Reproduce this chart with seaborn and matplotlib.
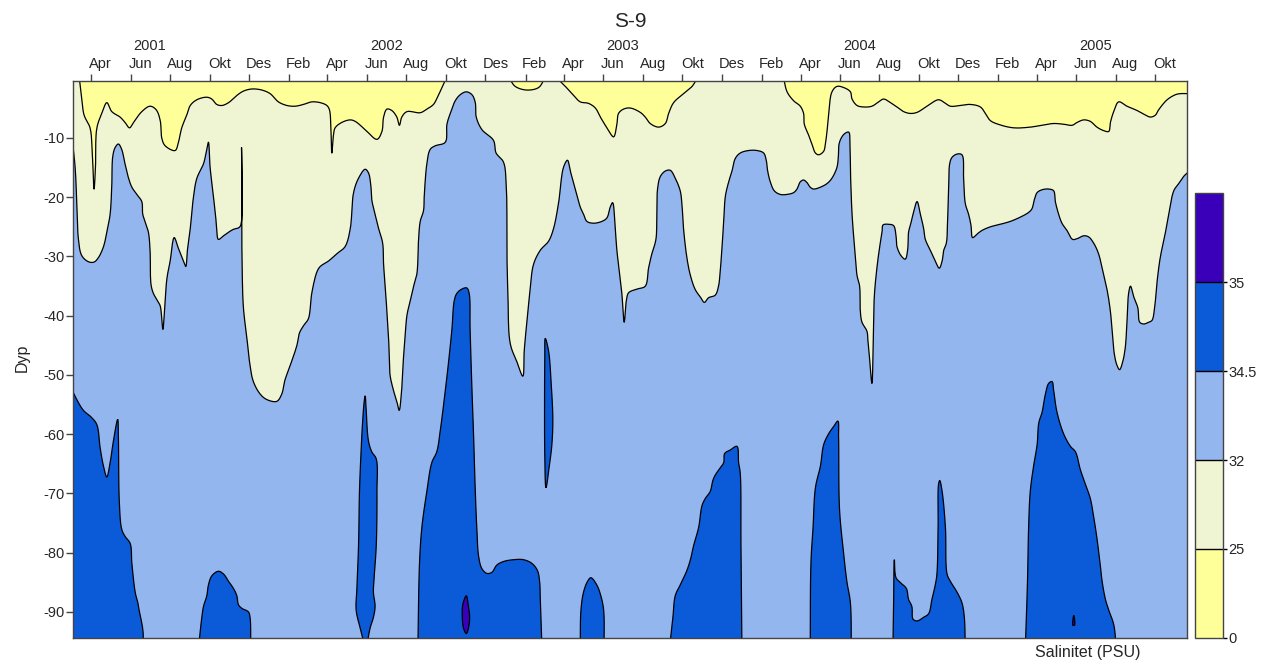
import datetime as dt
import numpy as np
import matplotlib
matplotlib.use("Agg")
import matplotlib as mpl
import matplotlib.pyplot as plt
from matplotlib.colors import ListedColormap, BoundaryNorm
import seaborn as sns

# ---------------- data (time in decimal years, depth in m) ----------------
# isohaline 25 PSU (lower edge of the fresh surface layer), one list per segment
ISO25_SEG1 = [(2001.197, 0), (2001.207, -3.44), (2001.217, -6.17), (2001.242, -8.30), (2001.251, -11.94),
              (2001.259, -18.63), (2001.265, -14.98), (2001.271, -8.30), (2001.292, -5.87), (2001.313, -4.05),
              (2001.334, -5.56), (2001.369, -6.48), (2001.390, -7.39), (2001.409, -8.30), (2001.426, -7.39),
              (2001.461, -5.56), (2001.496, -4.65), (2001.522, -5.26), (2001.539, -7.08), (2001.546, -10.12),
              (2001.560, -11.34), (2001.602, -12.13), (2001.616, -10.73), (2001.630, -8.30), (2001.651, -6.17),
              (2001.666, -4.53), (2001.694, -3.56), (2001.736, -3.13), (2001.757, -3.44), (2001.778, -4.35),
              (2001.800, -4.53), (2001.828, -4.05), (2001.863, -2.83), (2001.891, -2.10), (2001.927, -1.74),
              (2001.969, -1.92), (2002.004, -2.53), (2002.039, -3.92), (2002.075, -4.53), (2002.110, -4.65),
              (2002.145, -4.35), (2002.180, -3.92), (2002.216, -4.05), (2002.244, -4.53), (2002.255, -5.26),
              (2002.261, -8.30), (2002.265, -12.55), (2002.272, -9.51), (2002.279, -8.30), (2002.307, -7.39),
              (2002.343, -6.96), (2002.364, -7.21), (2002.406, -8.60), (2002.456, -10.24), (2002.477, -8.91),
              (2002.484, -6.48), (2002.498, -5.14), (2002.519, -5.38), (2002.540, -6.48), (2002.551, -7.87),
              (2002.561, -6.48), (2002.583, -5.56), (2002.639, -5.75), (2002.667, -5.14), (2002.695, -4.35),
              (2002.712, -3.13), (2002.731, -1.49), (2002.748, 0)]
ISO25_SEG2 = [(2003.017, 0), (2003.041, -1.31), (2003.090, -1.92), (2003.140, -1.49), (2003.165, 0)]
ISO25_SEG3 = [(2003.220, 0), (2003.253, -1.31), (2003.288, -2.83), (2003.316, -3.92), (2003.351, -4.17),
              (2003.380, -4.96), (2003.401, -6.48), (2003.429, -8.30), (2003.457, -9.82), (2003.471, -7.69),
              (2003.478, -5.87), (2003.499, -5.14), (2003.528, -4.96), (2003.570, -5.69), (2003.591, -6.48),
              (2003.612, -7.57), (2003.648, -8.18), (2003.676, -7.57), (2003.690, -5.87), (2003.711, -4.05),
              (2003.753, -2.53), (2003.789, -1.31), (2003.810, 0)]
ISO25_SEG4 = [(2004.177, 0), (2004.191, -2.22), (2004.219, -3.74), (2004.247, -4.65), (2004.261, -5.87),
              (2004.264, -7.69), (2004.282, -9.51), (2004.296, -11.03), (2004.311, -12.55), (2004.325, -12.85),
              (2004.346, -12.25), (2004.353, -11.03), (2004.360, -8.91), (2004.367, -5.87), (2004.381, -2.22),
              (2004.402, -1.31), (2004.430, -1.49), (2004.459, -2.22), (2004.466, -3.44), (2004.487, -4.53),
              (2004.515, -4.78), (2004.550, -4.65), (2004.578, -3.92), (2004.600, -3.44), (2004.628, -4.05),
              (2004.656, -4.78), (2004.684, -5.56), (2004.712, -5.87), (2004.741, -5.69), (2004.783, -4.65),
              (2004.832, -3.56), (2004.861, -4.17), (2004.882, -4.65), (2004.924, -4.53), (2004.966, -4.35),
              (2005.009, -4.78), (2005.030, -5.87), (2005.051, -7.08), (2005.093, -7.81), (2005.150, -8.30),
              (2005.220, -8.18), (2005.277, -7.81), (2005.319, -7.57), (2005.361, -7.69), (2005.397, -7.87),
              (2005.418, -7.39), (2005.446, -6.96), (2005.474, -7.21), (2005.502, -8.18), (2005.531, -8.78),
              (2005.552, -8.91), (2005.559, -7.39), (2005.573, -5.56), (2005.594, -3.92), (2005.629, -4.65),
              (2005.672, -5.38), (2005.700, -5.99), (2005.728, -6.48), (2005.749, -6.17), (2005.763, -5.26),
              (2005.799, -3.56), (2005.834, -2.71), (2005.855, -2.53), (2005.890, -2.53)]

# isohaline 32 PSU
ISO32 = [(2001.160, -8.00), (2001.179, -14.98), (2001.186, -21.06), (2001.193, -27.13), (2001.207, -29.87),
         (2001.235, -30.90), (2001.259, -30.96), (2001.278, -30.17), (2001.299, -28.35), (2001.313, -25.92),
         (2001.327, -22.88), (2001.334, -18.02), (2001.338, -13.16), (2001.348, -11.64), (2001.362, -11.03),
         (2001.376, -11.94), (2001.390, -14.37), (2001.405, -16.80), (2001.419, -18.32), (2001.440, -19.54),
         (2001.461, -20.75), (2001.465, -22.88), (2001.475, -24.09), (2001.489, -25.92), (2001.496, -28.96),
         (2001.500, -34.73), (2001.510, -36.24), (2001.527, -37.46), (2001.539, -38.37), (2001.550, -42.32),
         (2001.557, -39.28), (2001.567, -33.81), (2001.581, -30.78), (2001.598, -26.83), (2001.616, -28.65),
         (2001.637, -30.78), (2001.647, -31.70), (2001.654, -28.96), (2001.666, -25.31), (2001.680, -19.84),
         (2001.694, -16.80), (2001.722, -14.37), (2001.736, -11.94), (2001.743, -10.73), (2001.750, -14.98),
         (2001.764, -19.84), (2001.774, -23.49), (2001.778, -25.31), (2001.785, -27.13), (2001.807, -26.52),
         (2001.828, -25.92), (2001.849, -25.43), (2001.870, -25.19), (2001.880, -24.70), (2001.883, -11.64),
         (2001.885, -30.17), (2001.891, -38.67), (2001.905, -43.53), (2001.919, -48.40), (2001.933, -51.13),
         (2001.962, -53.25), (2001.990, -54.17), (2002.032, -54.47), (2002.053, -53.25), (2002.067, -50.83),
         (2002.089, -48.40), (2002.117, -45.05), (2002.128, -42.93), (2002.145, -41.71), (2002.166, -40.50),
         (2002.180, -36.24), (2002.202, -32.60), (2002.216, -31.70), (2002.251, -30.78), (2002.286, -29.56),
         (2002.321, -28.35), (2002.343, -25.31), (2002.357, -19.23), (2002.378, -16.80), (2002.406, -15.29),
         (2002.420, -15.89), (2002.430, -18.02), (2002.434, -20.45), (2002.448, -22.88), (2002.463, -25.31),
         (2002.480, -27.74), (2002.484, -31.39), (2002.491, -35.03), (2002.498, -39.28), (2002.505, -43.54),
         (2002.509, -48.40), (2002.512, -50.22), (2002.526, -52.65), (2002.540, -54.47), (2002.550, -55.99),
         (2002.559, -53.25), (2002.568, -47.18), (2002.575, -43.54), (2002.583, -39.89), (2002.597, -37.46),
         (2002.611, -35.03), (2002.625, -32.90), (2002.632, -27.13), (2002.639, -24.09), (2002.653, -22.27),
         (2002.656, -19.84), (2002.667, -14.37), (2002.681, -11.94), (2002.702, -11.34), (2002.745, -10.73),
         (2002.752, -7.69), (2002.766, -5.87), (2002.787, -3.74), (2002.808, -2.71), (2002.834, -2.22),
         (2002.858, -2.71), (2002.872, -4.05), (2002.876, -6.48), (2002.900, -8.60), (2002.949, -10.42),
         (2002.960, -12.55), (2002.991, -14.07), (2003.003, -18.02), (2003.006, -30.17), (2003.010, -36.24),
         (2003.020, -44.75), (2003.048, -47.79), (2003.073, -50.22), (2003.079, -45.96), (2003.090, -41.11),
         (2003.104, -35.64), (2003.118, -31.39), (2003.147, -28.96), (2003.182, -27.44), (2003.203, -25.31),
         (2003.224, -21.06), (2003.245, -14.98), (2003.262, -13.77), (2003.274, -15.59), (2003.295, -18.63),
         (2003.316, -21.66), (2003.330, -22.88), (2003.344, -24.09), (2003.372, -24.40), (2003.408, -24.09),
         (2003.429, -23.49), (2003.443, -21.66), (2003.453, -20.93), (2003.464, -25.31), (2003.471, -28.96),
         (2003.485, -33.81), (2003.492, -36.24), (2003.502, -41.11), (2003.511, -37.46), (2003.521, -36.12),
         (2003.556, -35.52), (2003.591, -35.03), (2003.605, -31.99), (2003.619, -29.56), (2003.633, -27.74),
         (2003.638, -26.52), (2003.640, -22.88), (2003.643, -18.63), (2003.655, -16.50), (2003.676, -15.59),
         (2003.697, -15.47), (2003.718, -16.80), (2003.739, -18.93), (2003.746, -21.06), (2003.753, -25.31),
         (2003.767, -30.17), (2003.782, -33.21), (2003.803, -35.64), (2003.824, -36.85), (2003.841, -37.76),
         (2003.859, -36.97), (2003.887, -36.55), (2003.901, -35.03), (2003.908, -32.60), (2003.916, -28.35),
         (2003.923, -24.09), (2003.930, -19.84), (2003.944, -17.41), (2003.958, -15.59), (2003.972, -13.46),
         (2003.993, -12.55), (2004.028, -12.13), (2004.064, -12.13), (2004.092, -12.55), (2004.103, -13.77),
         (2004.109, -15.59), (2004.120, -17.41), (2004.137, -18.93), (2004.162, -19.54), (2004.191, -19.54),
         (2004.219, -19.23), (2004.233, -18.63), (2004.247, -17.41), (2004.261, -17.11), (2004.275, -17.53),
         (2004.289, -18.32), (2004.303, -18.63), (2004.332, -18.32), (2004.360, -17.71), (2004.381, -16.80),
         (2004.402, -14.98), (2004.408, -13.16), (2004.411, -11.03), (2004.423, -9.82), (2004.437, -9.21),
         (2004.452, -9.03), (2004.457, -11.34), (2004.460, -16.80), (2004.466, -22.88), (2004.475, -27.74),
         (2004.487, -33.21), (2004.498, -35.03), (2004.501, -39.28), (2004.508, -41.11), (2004.529, -42.63),
         (2004.533, -44.14), (2004.540, -47.18), (2004.550, -51.43), (2004.556, -43.54), (2004.560, -36.85),
         (2004.571, -31.99), (2004.583, -28.35), (2004.593, -25.92), (2004.597, -24.70), (2004.621, -24.58),
         (2004.642, -24.82), (2004.652, -26.52), (2004.656, -28.35), (2004.673, -29.87), (2004.691, -30.47),
         (2004.701, -28.96), (2004.705, -25.92), (2004.713, -24.70), (2004.724, -22.88), (2004.741, -20.75),
         (2004.755, -22.88), (2004.769, -25.31), (2004.776, -27.13), (2004.797, -28.96), (2004.818, -30.78),
         (2004.835, -31.99), (2004.847, -30.78), (2004.854, -28.96), (2004.865, -27.74), (2004.870, -24.09),
         (2004.875, -18.02), (2004.879, -14.37), (2004.889, -13.28), (2004.910, -12.73), (2004.931, -12.85),
         (2004.938, -16.80), (2004.945, -21.06), (2004.959, -22.88), (2004.969, -24.70), (2004.976, -26.83),
         (2004.995, -26.22), (2005.016, -25.61), (2005.051, -25.01), (2005.093, -24.58), (2005.136, -24.09),
         (2005.178, -23.37), (2005.213, -22.58), (2005.227, -21.97), (2005.237, -20.45), (2005.249, -19.23),
         (2005.270, -18.75), (2005.298, -18.63), (2005.319, -18.93), (2005.326, -20.75), (2005.340, -22.88),
         (2005.354, -24.40), (2005.375, -25.61), (2005.399, -27.13), (2005.418, -27.01), (2005.446, -26.52),
         (2005.467, -26.71), (2005.488, -27.74), (2005.509, -29.56), (2005.524, -31.99), (2005.545, -35.64),
         (2005.559, -39.28), (2005.566, -42.32), (2005.576, -46.57), (2005.587, -48.40), (2005.598, -49.12),
         (2005.611, -47.79), (2005.622, -45.36), (2005.629, -41.11), (2005.636, -36.24), (2005.644, -35.03),
         (2005.658, -36.85), (2005.675, -38.67), (2005.683, -41.11), (2005.700, -41.41), (2005.721, -41.11),
         (2005.735, -40.80), (2005.746, -38.67), (2005.756, -34.42), (2005.770, -30.17), (2005.792, -25.92),
         (2005.806, -22.88), (2005.827, -18.93), (2005.848, -17.71), (2005.869, -16.50), (2005.890, -15.71)]

# regions above 34.5 PSU (outline of each water body, -96 = below the bottom)
S345_1 = [(2001.160, -52.04), (2001.186, -54.17), (2001.214, -55.99), (2001.249, -57.21), (2001.271, -58.42),
          (2001.285, -62.37), (2001.299, -65.41), (2001.313, -67.23), (2001.327, -64.80), (2001.341, -61.15),
          (2001.359, -57.51), (2001.362, -60.55), (2001.366, -71.48), (2001.376, -76.04), (2001.390, -77.25),
          (2001.412, -78.47), (2001.419, -81.81), (2001.433, -86.67), (2001.447, -89.10), (2001.454, -96),
          (2001.160, -96)]
S345_2 = [(2001.701, -96), (2001.715, -90.92), (2001.722, -89.10), (2001.736, -87.28), (2001.743, -85.46),
          (2001.757, -83.94), (2001.785, -83.15), (2001.807, -83.63), (2001.828, -84.85), (2001.849, -86.07),
          (2001.863, -87.28), (2001.870, -88.79), (2001.884, -89.40), (2001.912, -90.01), (2001.919, -90.92),
          (2001.922, -96)]
S345_3 = [(2002.406, -96), (2002.385, -92.75), (2002.368, -89.71), (2002.371, -86.07), (2002.378, -78.77),
          (2002.382, -69.66), (2002.388, -63.58), (2002.395, -58.12), (2002.402, -54.47), (2002.406, -53.56),
          (2002.410, -55.69), (2002.420, -61.15), (2002.434, -62.98), (2002.453, -64.19), (2002.456, -69.66),
          (2002.453, -78.77), (2002.444, -84.24), (2002.441, -86.67), (2002.448, -89.10), (2002.441, -90.92),
          (2002.427, -92.75), (2002.412, -96)]
S345_4 = [(2002.629, -96), (2002.636, -81.81), (2002.646, -75.73), (2002.667, -69.66), (2002.688, -64.80),
          (2002.709, -62.98), (2002.724, -59.33), (2002.745, -52.65), (2002.759, -47.79), (2002.773, -42.32),
          (2002.783, -37.46), (2002.794, -36.24), (2002.815, -35.52), (2002.836, -35.33), (2002.846, -36.24),
          (2002.850, -42.32), (2002.857, -51.43), (2002.865, -60.55), (2002.872, -69.66), (2002.879, -76.34),
          (2002.886, -80.60), (2002.900, -82.72), (2002.921, -83.51), (2002.942, -83.33), (2002.963, -82.11),
          (2002.991, -81.51), (2003.034, -81.20), (2003.076, -81.20), (2003.111, -81.81), (2003.135, -83.03),
          (2003.144, -84.85), (2003.147, -87.89), (2003.154, -96)]
S345_5 = [(2003.168, -43.84), (2003.182, -45.96), (2003.193, -51.43), (2003.200, -57.51), (2003.196, -61.76),
          (2003.185, -65.41), (2003.171, -69.05), (2003.166, -63.58), (2003.165, -54.47), (2003.166, -47.18)]
S345_6 = [(2003.316, -96), (2003.319, -89.71), (2003.330, -86.67), (2003.347, -84.85), (2003.361, -84.24),
          (2003.386, -85.46), (2003.403, -87.28), (2003.415, -89.71), (2003.417, -96)]
S345_7 = [(2003.694, -96), (2003.708, -90.92), (2003.718, -87.28), (2003.739, -85.46), (2003.767, -83.03),
          (2003.782, -81.20), (2003.796, -78.77), (2003.817, -75.73), (2003.831, -72.09), (2003.845, -70.87),
          (2003.866, -69.66), (2003.877, -67.84), (2003.887, -66.93), (2003.908, -65.71), (2003.923, -64.80),
          (2003.927, -63.28), (2003.951, -62.67), (2003.979, -62.07), (2003.986, -64.80), (2003.993, -66.62),
          (2003.996, -78.77), (2004.000, -96)]
S345_8 = [(2004.289, -96), (2004.292, -81.81), (2004.301, -75.73), (2004.311, -69.05), (2004.332, -65.41),
          (2004.346, -61.76), (2004.367, -59.94), (2004.388, -58.72), (2004.406, -57.81), (2004.409, -60.55),
          (2004.413, -72.70), (2004.430, -79.99), (2004.444, -84.85), (2004.459, -88.49), (2004.463, -96)]
S345_9 = [(2004.639, -96), (2004.642, -87.89), (2004.645, -81.20), (2004.652, -84.24), (2004.673, -85.15),
          (2004.696, -86.07), (2004.705, -87.89), (2004.719, -89.10), (2004.724, -91.23), (2004.741, -91.53),
          (2004.769, -90.92), (2004.790, -90.31), (2004.804, -87.89), (2004.818, -85.46), (2004.825, -83.63),
          (2004.830, -75.73), (2004.832, -68.44), (2004.837, -67.84), (2004.847, -69.66), (2004.861, -75.73),
          (2004.868, -83.63), (2004.882, -84.85), (2004.910, -86.67), (2004.931, -88.49), (2004.941, -90.92),
          (2004.945, -96)]
S345_10 = [(2005.199, -96), (2005.206, -87.89), (2005.209, -83.63), (2005.213, -75.73), (2005.220, -69.66),
           (2005.234, -65.41), (2005.249, -61.76), (2005.256, -58.12), (2005.270, -56.29), (2005.284, -53.25),
           (2005.298, -51.43), (2005.312, -51.13), (2005.319, -52.65), (2005.333, -56.29), (2005.361, -59.94),
           (2005.390, -62.07), (2005.411, -62.98), (2005.432, -66.01), (2005.453, -68.44), (2005.474, -70.87),
           (2005.488, -73.91), (2005.502, -77.56), (2005.517, -82.42), (2005.524, -84.85), (2005.538, -87.89),
           (2005.552, -89.71), (2005.573, -92.14), (2005.584, -96)]

# regions above 35 PSU
S35_1 = [(2002.834, -87.28), (2002.843, -89.10), (2002.848, -90.92), (2002.843, -92.75), (2002.834, -93.66),
         (2002.822, -92.75), (2002.817, -90.92), (2002.819, -88.80)]
S35_2 = [(2005.404, -90.62), (2005.408, -91.53), (2005.407, -92.26), (2005.400, -92.26), (2005.400, -91.53)]

LEVELS = [0, 25, 32, 34.5, 35, 36]
LEVEL_LABELS = ["0", "25", "32", "34.5", "35"]
MONTH_NAMES = {2: "Feb", 4: "Apr", 6: "Jun", 8: "Aug", 10: "Okt", 12: "Des"}
YEARS = [2001, 2002, 2003, 2004, 2005]
TITLE = "S-9"
YLABEL = "Dyp"
CBAR_LABEL = "Salinitet (PSU)"
DEPTH_TICKS = [-10, -20, -30, -40, -50, -60, -70, -80, -90]

# ---------------- style ----------------
C_YELLOW = "#ffff99"
C_PALE = "#eff4d3"
C_LBLUE = "#94b6ee"
C_DBLUE = "#0b5bd9"
C_PURPLE = "#3a00b9"
EDGE = "black"
LW = 0.9
PX_PER_YEAR, PX_PER_M = 236.3, 5.92   # only used to parameterise the smoothing

sns.set_theme(style="ticks")
plt.rcParams["font.family"] = ["Liberation Sans", "DejaVu Sans"]


def decyear(y, m, d=1):
    t = dt.date(y, m, d)
    start = dt.date(y, 1, 1)
    n = (dt.date(y + 1, 1, 1) - start).days
    return y + (t - start).days / n


def smooth(pts, closed=False, n=10):
    P = np.asarray(pts, float) * [PX_PER_YEAR, PX_PER_M]
    if closed:
        E = np.vstack([P[-1], P, P[0], P[1]])
    else:
        E = np.vstack([2 * P[0] - P[1], P, 2 * P[-1] - P[-2]])
    out = [E[1]]
    for i in range(len(E) - 3):
        p0, p1, p2, p3 = E[i], E[i + 1], E[i + 2], E[i + 3]
        t0 = 0.0
        t1 = t0 + max(np.linalg.norm(p1 - p0), 1e-6) ** 0.5
        t2 = t1 + max(np.linalg.norm(p2 - p1), 1e-6) ** 0.5
        t3 = t2 + max(np.linalg.norm(p3 - p2), 1e-6) ** 0.5
        for t in np.linspace(t1, t2, n + 1)[1:]:
            a1 = (t1 - t) / (t1 - t0) * p0 + (t - t0) / (t1 - t0) * p1
            a2 = (t2 - t) / (t2 - t1) * p1 + (t - t1) / (t2 - t1) * p2
            a3 = (t3 - t) / (t3 - t2) * p2 + (t - t2) / (t3 - t2) * p3
            b1 = (t2 - t) / (t2 - t0) * a1 + (t - t0) / (t2 - t0) * a2
            b2 = (t3 - t) / (t3 - t1) * a2 + (t - t1) / (t3 - t1) * a3
            out.append((t2 - t) / (t2 - t1) * b1 + (t - t1) / (t2 - t1) * b2)
    S = np.array(out) / [PX_PER_YEAR, PX_PER_M]
    return S[:, 0], S[:, 1]


fig = plt.figure(figsize=(12.61, 6.62), dpi=100)
ax = fig.add_axes([0.0579, 0.0355, 0.8834, 0.8421])
ax.set_facecolor(C_LBLUE)

XMIN, XMAX = 2001.170, 2005.883
ax.set_xlim(XMIN, XMAX)
ax.set_ylim(-94.5, -0.4)


def layer(pts, color):
    xs, ds = smooth(pts)
    px = np.concatenate([xs, [xs[-1], xs[0]]])
    py = np.concatenate([ds, [2.0, 2.0]])
    ax.fill(px, py, facecolor=color, edgecolor="none", lw=0)
    sns.lineplot(x=xs, y=ds, ax=ax, color=EDGE, lw=LW, sort=False, estimator=None)


def body(pts, color):
    # bodies resting on the bottom: smooth only the visible outline
    floating = pts[0][1] > -95 and pts[-1][1] > -95
    xs, ds = smooth(pts, closed=floating)
    ax.fill(xs, ds, facecolor=color, edgecolor=EDGE, lw=LW)


# 25-32 layer (everything above the 32 isohaline), then 0-25 layer
layer(ISO32, C_PALE)
for seg in (ISO25_SEG1, ISO25_SEG2, ISO25_SEG3, ISO25_SEG4):
    layer(seg, C_YELLOW)

# 34.5-35 water bodies
for poly in (S345_1, S345_2, S345_3, S345_4, S345_5, S345_6, S345_7, S345_8, S345_9, S345_10):
    body(poly, C_DBLUE)

# >35 water bodies
for poly in (S35_1, S35_2):
    body(poly, C_PURPLE)

# ---------------- axes ----------------
for sp in ax.spines.values():
    sp.set_color("#444444")
    sp.set_linewidth(1.0)
    sp.set_zorder(10)

ax.set_yticks(DEPTH_TICKS)
ax.set_yticklabels([str(v) for v in DEPTH_TICKS])
ax.tick_params(axis="y", direction="out", length=5, width=1, color="#444444",
               labelsize=10.5, pad=1, left=True)

major, mids, labels = [], [], []
for y in range(2001, 2006):
    for m in range(1, 13):
        s = decyear(y, m)
        e = decyear(y + (m == 12), m % 12 + 1)
        if m in MONTH_NAMES and XMIN < s < XMAX:
            major.append(s)
        if m in MONTH_NAMES and XMIN < (s + e) / 2 < XMAX:
            mids.append((s + e) / 2)
            labels.append(MONTH_NAMES[m])

ax.xaxis.set_ticks_position("top")
ax.set_xticks(major)
ax.set_xticklabels([""] * len(major))
ax.set_xticks(mids, minor=True)
ax.set_xticklabels(labels, minor=True)
ax.tick_params(axis="x", which="major", direction="out", length=5, width=1, color="#444444",
               top=True, bottom=False, labeltop=False, labelbottom=False)
ax.tick_params(axis="x", which="minor", length=0, top=True, bottom=False,
               labeltop=True, labelbottom=False, labelsize=10.5, pad=7.5)
ax.set_xlabel("")
ax.set_ylabel("")

sec = ax.secondary_xaxis("top")
sec.set_xticks([decyear(y, 7) for y in YEARS])
sec.set_xticklabels([str(y) for y in YEARS])
sec.tick_params(length=0, labelsize=10.5, pad=20)
sec.spines["top"].set_visible(False)

fig.text(0.4996, 0.968, TITLE, ha="center", va="center", fontsize=15)
fig.text(0.0175, 0.459, YLABEL, ha="center", va="center", rotation=90, fontsize=11.5)
fig.text(0.863, 0.015, CBAR_LABEL, ha="center", va="center", fontsize=11.5)

# ---------------- colour bar ----------------
cax = fig.add_axes([0.9477, 0.0363, 0.0222, 0.672])
cmap = ListedColormap([C_YELLOW, C_PALE, C_LBLUE, C_DBLUE, C_PURPLE])
norm = BoundaryNorm(LEVELS, cmap.N)
cb = fig.colorbar(mpl.cm.ScalarMappable(norm=norm, cmap=cmap), cax=cax,
                  ticks=LEVELS[:-1], drawedges=True, spacing="uniform")
cb.ax.set_yticklabels(LEVEL_LABELS)
cb.ax.minorticks_off()
cb.ax.tick_params(length=3, width=1, labelsize=10.5, pad=1, color="black")
cb.outline.set_edgecolor("#444444")
cb.outline.set_linewidth(1.0)
cb.dividers.set_color("black")
cb.dividers.set_linewidth(1.0)

fig.savefig("out.png", dpi=100)
